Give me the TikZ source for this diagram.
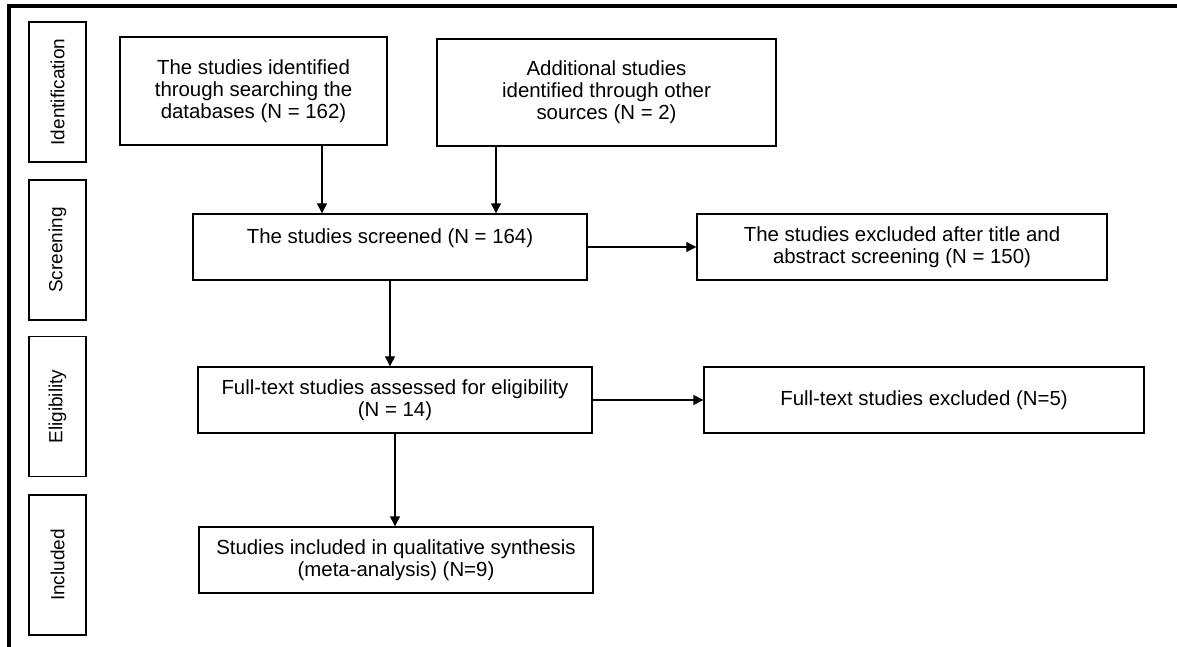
\documentclass[tikz,border=0pt]{standalone}
\usepackage{fontspec}
\setmainfont{Liberation Sans}
\usetikzlibrary{arrows.meta}

\begin{document}
\begin{tikzpicture}[x=0.5pt,y=-0.5pt,
  box/.style={draw, line width=0.7pt, align=center, inner sep=2pt,
    font=\fontsize{10.2}{11}\selectfont},
  phase/.style={draw, line width=0.7pt, rotate=90, inner sep=0pt,
    minimum width=70pt, minimum height=28.5pt,
    font=\fontsize{9.5}{11}\selectfont},
  arr/.style={-{Triangle[length=5pt,width=5pt]}, line width=0.6pt}]
\useasboundingbox (0,0) rectangle (1177,647);
% frame
\draw [line width=2pt] (9,647) -- (9,6) -- (1177,6);
% phases
\node [phase] (phId) at (57.5,92) {Identification};
\node [phase] (phSc) at (57.5,250) {Screening};
\node [phase] (phEl) at (57.5,406.5) {Eligibility};
\node [phase] (phIn) at (57.5,565) {Included};
% boxes
\node [box, minimum width=133.5pt, minimum height=54pt] (ident) at (253.5,91)
  {The studies identified\\through searching the\\databases (N = 162)};
\node [box, minimum width=169.5pt, minimum height=53.5pt] (other) at (606.5,92.5)
  {Additional studies\\identified through other\\sources (N = 2)};
\node [box, minimum width=197pt, minimum height=33pt] (screened) at (390,247)
  {The studies screened (N = 164)\\\mbox{}};
\node [box, minimum width=205pt, minimum height=33pt] (excl1) at (902,247)
  {The studies excluded after title and\\abstract screening (N = 150)};
\node [box, minimum width=197pt, minimum height=33pt] (fulltext) at (395,400)
  {Full-text studies assessed for eligibility\\(N = 14)};
\node [box, minimum width=220pt, minimum height=33pt] (excl2) at (924,400)
  {Full-text studies excluded (N=5)};
\node [box, minimum width=197pt, minimum height=33pt] (included) at (396,560)
  {Studies included in qualitative synthesis\\(meta-analysis) (N=9)};
% arrows
\coordinate (c1) at (322,0);
\coordinate (c2) at (496,0);
\draw [arr] (ident.south -| c1) -- (screened.north -| c1);
\draw [arr] (other.south -| c2) -- (screened.north -| c2);
\draw [arr] (screened.east) -- (excl1.west);
\draw [arr] (screened.south) -- (screened.south |- fulltext.north);
\draw [arr] (fulltext.east) -- (excl2.west);
\draw [arr] (fulltext.south) -- (fulltext.south |- included.north);
\end{tikzpicture}
\end{document}
